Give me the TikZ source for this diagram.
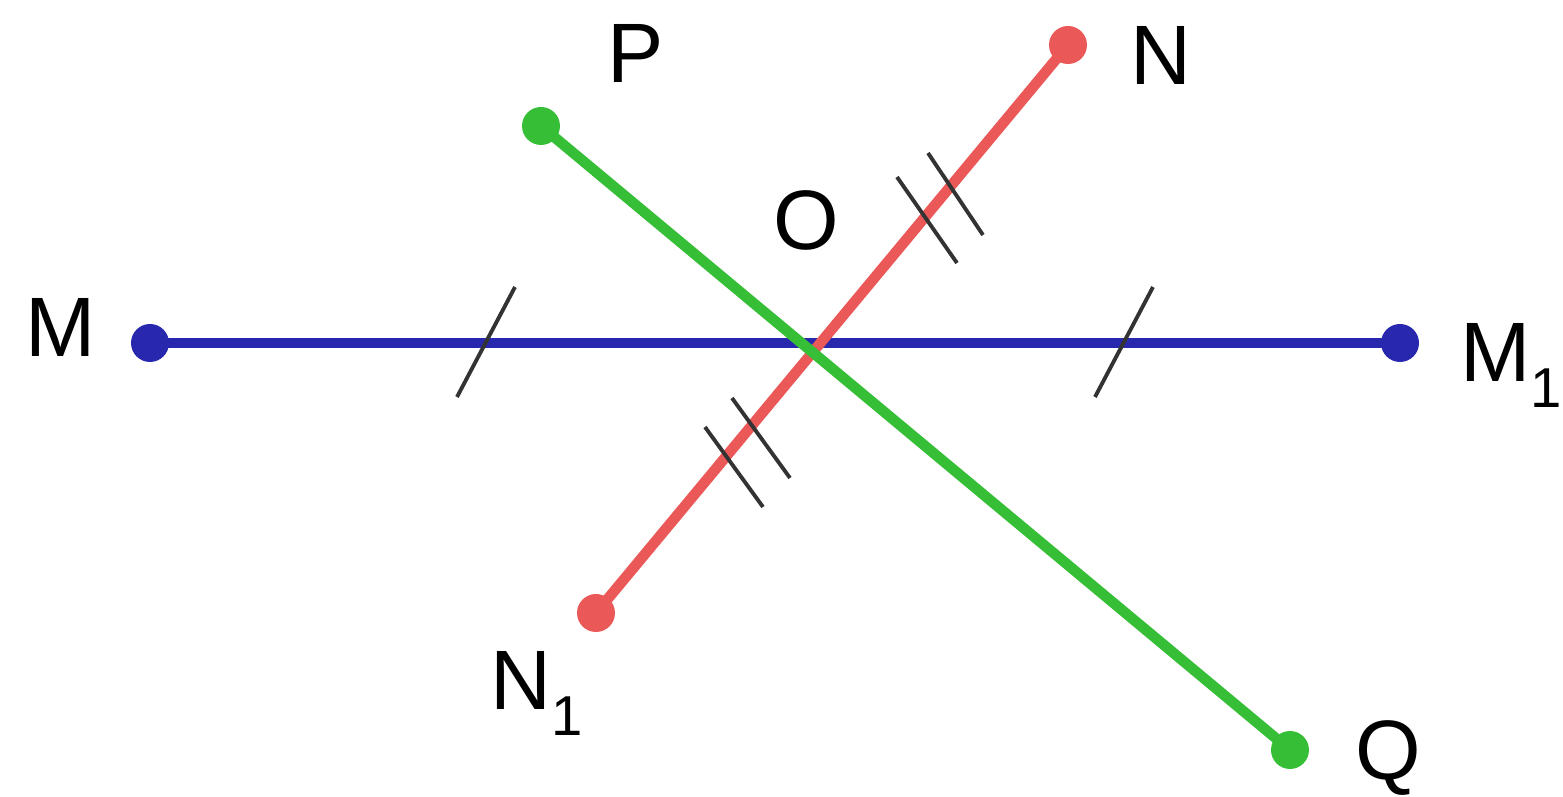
\documentclass[tikz,border=0pt]{standalone}
\usepackage{fontspec}
\setmainfont{Liberation Sans}
\usetikzlibrary{calc}
\definecolor{mcol}{RGB}{40,40,175}
\definecolor{ncol}{RGB}{235,88,88}
\definecolor{pcol}{RGB}{55,190,55}
\newcommand{\lowidx}[1]{\raisebox{-0.26cm}{\fontsize{16}{19}\selectfont #1}}
\tikzset{lbl/.style={anchor=base west,inner sep=0pt,font=\fontsize{24}{29}\selectfont},
         seg/.style={line width=3pt,line cap=round},
         tick/.style={line width=1.1pt,black!80}}
\begin{document}
\begin{tikzpicture}
  \useasboundingbox (0,0) rectangle (15.63,-7.97);
  \coordinate (M) at (1.50,-3.43);
  \coordinate (M1) at (14.00,-3.43);
  \coordinate (O) at (8.10,-3.45);
  \coordinate (N) at (10.68,-0.45);
  \coordinate (N1) at (5.96,-6.13);
  \coordinate (P) at (5.41,-1.26);
  \coordinate (Q) at (12.90,-7.50);
  % segments
  \draw[seg,mcol] (M)--(M1);
  \fill[mcol] (M) circle(0.19) (M1) circle(0.19);
  \draw[seg,ncol] (N1)--(N);
  \fill[ncol] (N) circle(0.19) (N1) circle(0.19);
  \draw[seg,pcol] (P)--(Q);
  \fill[pcol] (P) circle(0.19) (Q) circle(0.19);
  % equal marks
  \draw[tick] (4.57,-3.97)--(5.15,-2.87);
  \draw[tick] (10.95,-3.97)--(11.53,-2.87);
  \draw[tick] (8.97,-1.77)--(9.57,-2.63);
  \draw[tick] (9.28,-1.53)--(9.83,-2.35);
  \draw[tick] (7.05,-4.27)--(7.63,-5.07);
  \draw[tick] (7.32,-3.98)--(7.90,-4.78);
  % labels
  \node[lbl] (lM) at (0.25,-3.57) {M};
  \node[lbl] (lM1) at (14.60,-3.82) {M\lowidx{1}};
  \node[lbl] (lN) at (11.30,-0.85) {N};
  \node[lbl] (lN1) at (4.90,-7.10) {N\lowidx{1}};
  \node[lbl] (lP) at (6.07,-0.83) {P};
  \node[lbl] (lO) at (7.73,-2.50) {O};
  \node[lbl] (lQ) at (13.55,-7.80) {Q};
\end{tikzpicture}
\end{document}
